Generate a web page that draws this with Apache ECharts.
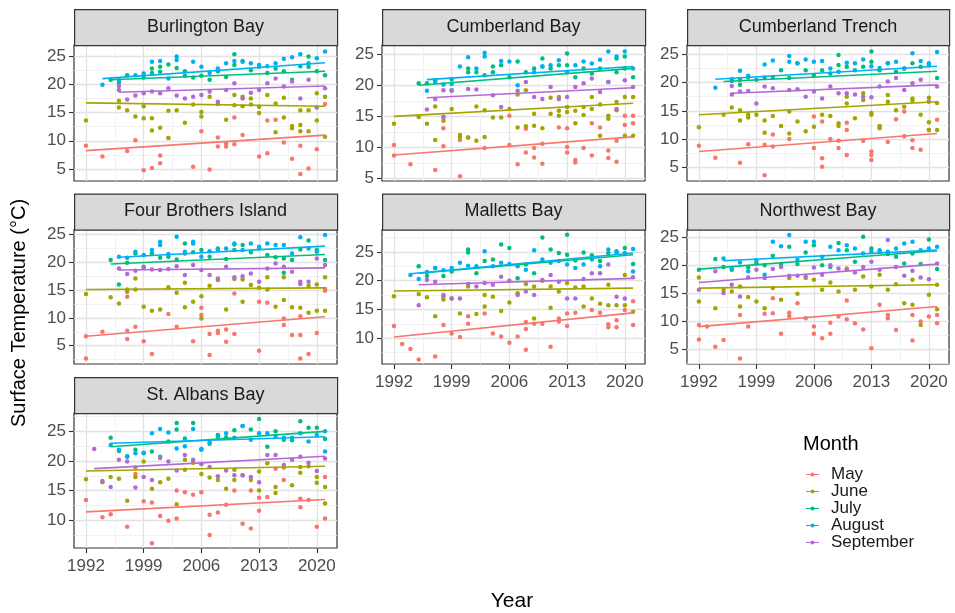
<!DOCTYPE html>
<html><head><meta charset="utf-8">
<script src="https://cdn.jsdelivr.net/npm/echarts@6/dist/echarts.min.js"></script>
<style>html,body{margin:0;padding:0;background:#fff}#c{width:955px;height:613px}</style>
</head><body><div id="c"></div>
<script>
// ---- data: one entry per year 1992..2021 (null = no sample, array = several samples) ----
const firstYear = 1992, lastYear = 2021;
const months = ['May','June','July','August','September'];
const xTicks = [1992,1999,2006,2013,2020];
const yTicks = [5,10,15,20,25];

// Burlington Bay
const bbMay = [9.1,null,7.2,null,null,8.2,10.1,4.8,5.2,[7.4,6.0],10.5,null,null,5.4,11.7,4.9,[10.6,9.0],[9.5,9.0],[9.4,14.1],11.0,null,7.2,[7.8,13.6],13.7,9.7,6.8,[9.1,4.1],5.1,8.5,16.5];
const bbJune = [13.6,null,null,null,[15.9,17.1],15.4,14.3,[14.0,16.1],[14.0,11.8],12.3,[15.3,10.5],15.4,13.2,16.4,[15.1,14.3],17.8,16.5,13.7,[18.1,16.3],[17.8,16.1],[16.4,17.5],[16.0,14.9],18.1,[11.5,16.6],[14.1,17.6],[12.6,12.2],[12.8,11.7,15.4],[11.7,15.4],[13.6,18.4],[10.7,17.8]];
const bbJuly = [null,null,null,20.8,20.3,21.6,null,21.2,[22.8,22.0],[23.1,22.2],23.5,22.9,22.3,21.2,21.5,20.8,22.3,21.3,[25.3,23.4],24.1,22.5,23.1,22.0,22.8,22.3,20.8,23.2,[24.9,23.1],22.3,21.6];
const bbAug = [null,null,19.9,null,20.8,null,21.6,21.9,24.0,24.1,21.0,[24.9,24.3],21.5,24.0,23.1,22.0,22.8,23.7,24.1,24.0,23.7,23.4,23.2,23.7,24.5,24.8,25.3,23.7,24.6,25.8];
const bbSep = [null,null,null,null,[19.7,19.0],17.3,18.0,18.4,18.7,18.4,19.3,18.0,17.5,17.8,18.1,18.7,16.9,19.0,20.2,17.5,18.5,19.0,20.2,21.0,19.6,20.5,17.5,20.8,15.9,19.3];
// trend lines: [startYear, startValue, endYear, endValue]
const bbTrend = [[1992,8.25,2021,11.0],[1992,16.7,2021,16.1],[1995,20.8,2021,22.3],[1994,21.0,2021,23.8],[1996,18.6,2021,19.7]];

// Cumberland Bay
const cbMay = [[10.4,8.7],null,7.3,null,null,6.4,[10.2,13.1],null,[5.4,11.2],11.6,null,9.9,null,null,[10.4,15.1],7.3,[13.0,9.2],[9.9,8.4],[7.4,10.6],null,13.2,[13.1,9.2,10.1],[8.0,7.6],9.9,[13.9,8.7],13.2,[9.5,8.3],[7.7,11.1],[13.6,15.1],[13.9,15.1]];
const cbJune = [13.8,null,null,14.9,13.8,[16.6,11.2],[14.3,14.9],16.2,[12.0,11.7],11.6,[16.6,11.1],[16.0,11.7],14.8,14.8,16.2,[13.2,18.5],[13.4,19.2],[13.5,15.4],13.1,[15.4,18.0],[18.1,15.9,15.1],[15.7,16.5],[13.9,15.9],[16.5,15.2],[16.2,18.1],[11.9,16.9],[14.6,15.1],[17.3,16.0],[11.9,18.1],[11.9,18.1]];
const cbJuly = [null,null,null,20.3,20.3,20.8,null,[20.9,19.2],null,[22.7,22.1],22.1,21.6,[23.0,22.1],23.2,21.3,23.8,22.1,22.7,[24.3,23.0],22.7,23.2,[25.1,23.2],21.3,22.7,21.9,22.7,20.5,[22.1,24.3],[24.6,22.7],21.3];
const cbAug = [null,null,null,null,19.1,20.5,20.1,20.2,23.0,24.5,22.7,[25.2,24.6],null,23.9,23.8,20.0,null,22.1,23.0,23.2,24.0,22.1,23.2,23.8,23.5,24.1,25.4,24.6,25.4,22.7];
const cbSep = [null,null,null,null,16.1,17.8,[14.9,19.2],19.1,null,19.4,19.3,null,18.4,16.5,null,19.1,20.5,18.1,17.8,19.7,17.8,18.1,19.7,20.3,21.1,18.9,20.5,16.2,20.8,19.7];
const cbTrend = [[1992,8.8,2021,11.7],[1992,15.0,2021,17.1],[1995,20.0,2021,22.7],[1996,20.9,2021,23.0],[1996,18.0,2021,19.6]];

// Cumberland Trench
const ctMay = [8.8,null,6.7,null,null,5.8,9.1,null,[3.6,9.0],[10.8,8.7],null,10.0,null,null,[8.4,14.0],[13.1,6.6,5.1],10.0,[9.7,8.4],[11.6,12.9,7.2],null,9.7,[6.3,7.2,7.8],12.2,9.5,13.5,[14.9,10.5],[8.4,9.8],8.1,11.6,13.4];
const ctJune = [12.1,null,null,14.3,15.6,[15.1,13.3],[14.3,13.8],14.3,[11.1,13.3],14.1,12.3,[14.9,11.0],13.1,11.4,12.2,14.3,14.1,[12.8,12.3],[16.3,17.5],13.7,[16.9,18.1],[14.3,14.6],[12.3,11.9],[16.6,17.8],15.1,15.7,[17.2,16.8],14.3,[13.0,11.6,17.3],[11.6,16.4]];
const ctJuly = [null,null,null,null,20.3,[20.5,19.6],20.9,null,20.9,21.0,22.2,20.8,23.4,22.2,21.3,22.2,21.6,[23.1,24.9],22.8,22.2,22.8,[25.5,23.7],22.2,23.4,21.9,22.5,23.4,22.8,23.1,20.8];
const ctAug = [null,null,19.1,null,20.6,22.1,21.2,20.5,23.2,23.9,null,[24.7,23.7],23.4,24.1,23.7,23.8,22.5,21.9,23.5,23.4,24.1,22.9,22.6,23.4,23.7,22.5,25.2,23.8,23.4,25.4];
const ctSep = [null,null,null,null,[19.4,17.9],18.4,18.5,16.3,19.3,19.0,null,18.7,18.8,17.5,18.4,17.2,19.3,18.1,18.1,17.9,17.5,17.4,19.3,20.2,20.8,18.7,19.9,20.5,16.6,19.3];
const ctTrend = [[1992,7.8,2021,11.0],[1992,14.3,2021,16.6],[1995,20.2,2021,22.0],[1994,20.6,2021,22.9],[1996,18.1,2021,19.6]];

// Four Brothers Island
const fbMay = [[6.7,2.7],null,7.5,null,null,[6.2,7.7,13.8],8.4,5.8,3.5,null,10.7,8.4,null,5.8,[11.8,10.5],[3.3,7.1],[7.7,7.3],[7.9,5.7],[7.1,14.4],null,null,[4.1,12.9],12.7,null,[8.7,9.9],6.9,[6.9,2.7,10.3],3.5,7.3,[14.9,15.2]];
const fbJune = [14.3,null,null,13.7,12.6,[15.1,14.7],[17.1,15.1],12.0,11.3,11.5,15.5,14.5,[11.9,16.3],12.9,[13.9,9.9],15.8,16.8,11.5,17.0,[16.9,12.9],15.9,15.4,[17.3,15.1],12.0,[17.3,13.2],11.9,11.8,[10.9,15.8],[11.3,16.0],[17.3,11.3]];
const fbJuly = [null,null,null,20.4,16.0,19.9,21.6,19.2,21.6,20.8,21.0,20.5,[21.6,23.4],21.8,22.2,21.0,22.5,20.6,[22.2,23.2],23.1,21.8,22.5,21.3,20.9,[18.1,20.7],20.4,22.3,23.9,22.2,20.4];
const fbAug = [null,null,null,null,21.0,20.8,21.9,21.3,22.2,[23.7,23.1],21.5,24.6,21.9,[23.4,23.7],21.0,22.0,22.3,22.5,23.4,22.2,23.4,22.8,23.4,23.1,23.1,21.6,24.5,22.5,21.9,24.9];
const fbSep = [null,null,null,null,18.9,17.9,18.5,19.0,18.7,18.6,18.8,19.3,17.7,19.5,18.6,17.7,17.1,19.2,17.3,17.5,18.0,16.5,18.9,19.8,19.2,18.3,[16.5,16.1],16.5,20.7,19.5];
const fbTrend = [[1992,6.7,2021,10.2],[1992,15.1,2021,15.4],[1995,19.7,2021,21.4],[1996,20.9,2021,22.9],[1996,18.6,2021,19.0]];

// Malletts Bay
const mbMay = [12.1,9.0,8.1,6.3,null,6.8,12.3,10.8,10.2,[13.8,12.5],null,14.3,10.8,10.3,9.2,10.3,[8.0,11.6,12.8],12.5,12.5,8.5,[12.9,13.4],[12.1,14.3],14.4,null,14.9,14.4,[11.9,12.4],[11.9,13.1],14.9,[12.3,16.4]];
const mbJune = [17.3,null,null,17.7,17.1,13.8,[17.2,16.7],16.9,14.3,19.0,14.2,[17.5,15.5],17.2,14.7,16.2,17.8,19.4,[13.4,19.0],20.0,[15.3,19.0],18.1,19.6,18.8,[15.5,19.0],16.9,16.0,[15.7,19.3],15.7,[15.7,21.0],14.6];
const mbJuly = [null,null,null,22.5,20.8,22.2,20.8,21.6,null,[25.4,24.9],21.3,23.4,23.7,26.3,25.7,20.4,22.8,21.3,27.5,25.4,24.8,[28.0,24.5],23.5,24.9,24.4,23.4,24.8,24.9,25.7,22.9];
const mbAug = [null,null,21.0,20.3,21.5,22.2,21.8,22.2,23.1,22.6,22.5,25.1,22.5,23.1,22.9,22.5,21.9,25.3,23.7,23.1,23.4,22.8,22.2,22.8,23.7,22.5,25.4,25.1,24.8,[25.5,21.6]];
const mbSep = [null,null,null,15.7,20.1,19.8,17.5,16.9,16.9,19.4,19.0,19.6,19.3,20.7,20.0,17.5,18.1,17.5,20.1,21.0,19.8,16.9,16.9,20.3,21.3,21.3,22.8,17.2,16.9,20.6];
const mbTrend = [[1992,10.2,2021,14.4],[1992,18.2,2021,18.7],[1995,21.3,2021,24.5],[1994,21.2,2021,24.8],[1995,19.3,2021,20.4]];

// Northwest Bay
const nwMay = [[9.3,6.7],9.0,5.4,6.6,null,[3.3,11.1],9.0,null,11.3,[14.1,11.4],7.7,[11.5,10.9],13.2,10.5,[9.0,7.7],6.9,[9.7,7.7],10.8,[13.7,10.3],9.6,8.5,5.1,12.9,[11.1,10.5],8.4,null,[6.5,11.1],9.9,10.8,[9.6,11.1]];
const nwJune = [[13.5,17.8],null,12.3,15.6,15.3,[12.6,16.2],14.3,13.5,12.3,15.9,13.8,17.7,14.9,17.7,17.4,15.6,16.9,15.3,19.4,15.6,18.0,16.2,18.3,15.6,16.6,13.2,[12.9,17.4],9.3,14.7,[16.5,12.1]];
const nwJuly = [19.2,null,21.1,19.7,19.2,null,19.6,20.3,20.0,21.7,20.2,23.3,20.2,22.3,23.6,20.0,19.7,24.0,22.7,20.6,25.1,23.0,22.4,22.0,21.5,20.3,22.1,20.2,24.6,19.3];
const nwAug = [null,null,null,21.2,19.4,20.5,18.9,20.9,18.3,24.2,23.4,25.4,21.0,24.2,24.2,21.5,23.3,22.7,23.6,23.0,22.1,22.4,22.7,22.4,23.0,23.9,24.2,22.7,23.0,23.3];
const nwSep = [15.6,null,18.9,15.0,16.5,14.4,17.8,19.2,17.7,19.3,19.7,18.1,18.1,18.0,19.6,18.3,20.0,19.4,19.2,18.7,19.7,20.6,19.2,24.5,19.7,18.1,19.0,17.8,17.5,20.3];
const nwTrend = [[1992,9.0,2021,12.6],[1992,15.9,2021,16.5],[1992,19.3,2021,22.6],[1995,20.8,2021,22.7],[1992,16.9,2021,20.2]];

// St. Albans Bay
const saMay = [13.4,null,10.5,11.0,null,8.9,17.8,13.2,[6.1,13.0],10.7,9.9,[15.0,10.3],14.7,14.3,14.7,[10.9,7.5],11.3,12.6,15.0,9.4,[8.6,15.0],[11.6,13.8],13.9,18.7,16.8,null,[12.2,13.6],13.4,8.9,[17.3,10.3]];
const saJune = [16.9,null,16.4,17.3,17.0,13.3,[17.3,18.9],19.9,15.3,16.4,17.0,12.7,[20.2,18.5],19.7,[17.8,19.5],17.2,16.8,15.3,[16.8,18.5],17.6,16.8,[15.0,18.2],19.6,[14.6,15.6],18.9,15.9,[19.0,18.0],19.1,[17.3,16.3],[15.6,12.8]];
const saJuly = [null,null,null,23.9,21.7,20.8,21.9,21.3,21.6,20.7,23.3,[26.4,25.3],23.8,26.4,22.0,22.9,24.4,24.0,25.2,25.9,25.3,27.1,22.4,25.0,23.6,23.5,26.7,25.6,25.6,23.7];
const saAug = [null,null,null,22.7,21.9,20.7,21.3,21.4,24.7,25.4,24.8,22.1,22.5,25.4,21.9,23.1,24.1,24.7,23.9,25.9,23.6,24.7,24.7,24.1,23.9,23.9,24.7,23.3,24.4,[21.6,25.0]];
const saSep = [null,22.0,16.6,15.6,20.2,19.9,15.5,17.3,16.8,20.5,19.9,18.4,21.0,20.2,19.5,19.0,17.4,18.4,17.6,17.6,17.3,16.4,21.0,21.0,19.3,20.2,20.7,19.7,18.3,20.4];
const saTrend = [[1992,11.4,2021,13.5],[1992,18.3,2021,19.1],[1995,22.4,2021,25.0],[1995,23.0,2021,24.1],[1993,18.7,2021,20.8]];

const panelNames = ['Burlington Bay','Cumberland Bay','Cumberland Trench','Four Brothers Island','Malletts Bay','Northwest Bay','St. Albans Bay'];
const panelData = [
  [bbMay,bbJune,bbJuly,bbAug,bbSep],[cbMay,cbJune,cbJuly,cbAug,cbSep],[ctMay,ctJune,ctJuly,ctAug,ctSep],
  [fbMay,fbJune,fbJuly,fbAug,fbSep],[mbMay,mbJune,mbJuly,mbAug,mbSep],[nwMay,nwJune,nwJuly,nwAug,nwSep],
  [saMay,saJune,saJuly,saAug,saSep]];
const panelTrends = [bbTrend,cbTrend,ctTrend,fbTrend,mbTrend,nwTrend,saTrend];

// ---- layout / style ----
const colors = ['#F8766D','#A3A500','#00BF7D','#00B0F6','#B36AD8'];
const FONT = 'Liberation Sans, Arial, Helvetica, sans-serif';
const yLimits = [[2.88,26.95],[4.62,26.46],[2.58,26.65],[1.7,25.9],[5.5,28.9],[2.3,26.4],[5.3,28.1]];
const xLimits = [1990.55,2022.45];
const grids = [
  {left:74,top:45,width:263,height:136},{left:382,top:45,width:263,height:136},{left:687,top:45,width:262,height:136},
  {left:74,top:229.5,width:263,height:134.5},{left:382,top:229.5,width:263,height:134.5},{left:687,top:229.5,width:262,height:134.5},
  {left:74,top:413,width:263,height:135}];
const showX = [false,false,false,false,true,true,true];

function expand(arr){
  const out=[];
  arr.forEach((v,i)=>{ if(v==null) return; (Array.isArray(v)?v:[v]).forEach(t=>out.push([firstYear+i,t])); });
  return out;
}
const xMinor = xTicks.slice(0,-1).map((t,i)=>(t+xTicks[i+1])/2);
const yMinorAll = [2.5,7.5,12.5,17.5,22.5,27.5];

const gridOpt=[], xAxis=[], yAxis=[], series=[], graphic=[];
grids.forEach((g,i)=>{
  gridOpt.push(Object.assign({show:true,borderColor:'#333',borderWidth:1.2,backgroundColor:'#fff',containLabel:false},g));
  const [ymin,ymax]=yLimits[i];
  const yMaj = yTicks.filter(v=>v>=ymin&&v<=ymax);
  const yMin = yMinorAll.filter(v=>v>ymin&&v<ymax);
  xAxis.push({gridIndex:i,type:'value',min:xLimits[0],max:xLimits[1],position:'bottom',
    axisLine:{show:false},
    axisTick:{show:showX[i],customValues:xTicks,length:5,lineStyle:{color:'#333',width:1.1}},
    axisLabel:{show:showX[i],customValues:xTicks,color:'#4d4d4d',fontSize:17,fontFamily:FONT,margin:10,formatter:v=>String(v)},
    splitLine:{show:true,lineStyle:{color:'#e2e2e2',width:1.3}}});
  xAxis.push({gridIndex:i,type:'value',min:xLimits[0],max:xLimits[1],position:'top',
    axisLine:{show:false},axisTick:{show:false,customValues:xMinor},axisLabel:{show:false},
    splitLine:{show:true,lineStyle:{color:'#efefef',width:0.8}}});
  yAxis.push({gridIndex:i,type:'value',min:ymin,max:ymax,position:'left',
    axisLine:{show:false},
    axisTick:{show:true,customValues:yMaj,length:5,lineStyle:{color:'#333',width:1.1}},
    axisLabel:{show:true,customValues:yMaj,color:'#4d4d4d',fontSize:17,fontFamily:FONT,margin:8,formatter:v=>String(v)},
    splitLine:{show:true,lineStyle:{color:'#e2e2e2',width:1.3}}});
  yAxis.push({gridIndex:i,type:'value',min:ymin,max:ymax,position:'right',
    axisLine:{show:false},axisTick:{show:false,customValues:yMin},axisLabel:{show:false},
    splitLine:{show:true,lineStyle:{color:'#efefef',width:0.8}}});
  // points
  panelData[i].forEach((arr,k)=>{
    series.push({type:'scatter',name:months[k],xAxisIndex:2*i,yAxisIndex:2*i,data:expand(arr),
      symbol:'circle',symbolSize:4.5,itemStyle:{color:colors[k],opacity:1},z:2,silent:true});
  });
  // linear trends
  panelTrends[i].forEach((t,k)=>{
    series.push({type:'line',name:months[k],xAxisIndex:2*i,yAxisIndex:2*i,data:[[t[0],t[1]],[t[2],t[3]]],
      symbol:'none',showSymbol:false,lineStyle:{color:colors[k],width:1.6},itemStyle:{color:colors[k]},z:3,silent:true});
  });
  // strip
  graphic.push({type:'rect',left:g.left,top:g.top-36,shape:{width:g.width,height:36},
    style:{fill:'#d9d9d9',stroke:'#333',lineWidth:1.2},z:10});
  graphic.push({type:'text',x:g.left+g.width/2,y:g.top-18,
    style:{text:panelNames[i],fill:'#1a1a1a',font:'18px '+FONT,textAlign:'center',textVerticalAlign:'middle'},z:11});
});
graphic.push({type:'text',x:19,y:313,rotation:Math.PI/2,
  style:{text:'Surface Temperature (°C)',fill:'#000',font:'20px '+FONT,textAlign:'center',textVerticalAlign:'middle'}});
graphic.push({type:'text',x:512,y:601,
  style:{text:'Year',fill:'#000',font:'21px '+FONT,textAlign:'center',textVerticalAlign:'middle'}});
graphic.push({type:'text',x:803,y:444,
  style:{text:'Month',fill:'#000',font:'20px '+FONT,textAlign:'left',textVerticalAlign:'middle'}});

const chart = echarts.init(document.getElementById('c'),null,{renderer:'canvas'});
chart.setOption({
  animation:false,
  backgroundColor:'#fff',
  grid:gridOpt, xAxis, yAxis, series, graphic,
  legend:{orient:'vertical',left:801,top:461,itemGap:0,itemWidth:13,itemHeight:8,selectedMode:false,
    data:months.map((m,k)=>({name:m,icon:'path://M0,3.5L13,3.5L13,4.5L0,4.5Z M6.5,2A2,2,0,1,1,6.5,6A2,2,0,1,1,6.5,2Z',itemStyle:{color:colors[k]}})),
    textStyle:{fontSize:17,fontFamily:FONT,color:'#1a1a1a',lineHeight:16.5,padding:[0,0,0,7]}}
});
</script></body></html>
